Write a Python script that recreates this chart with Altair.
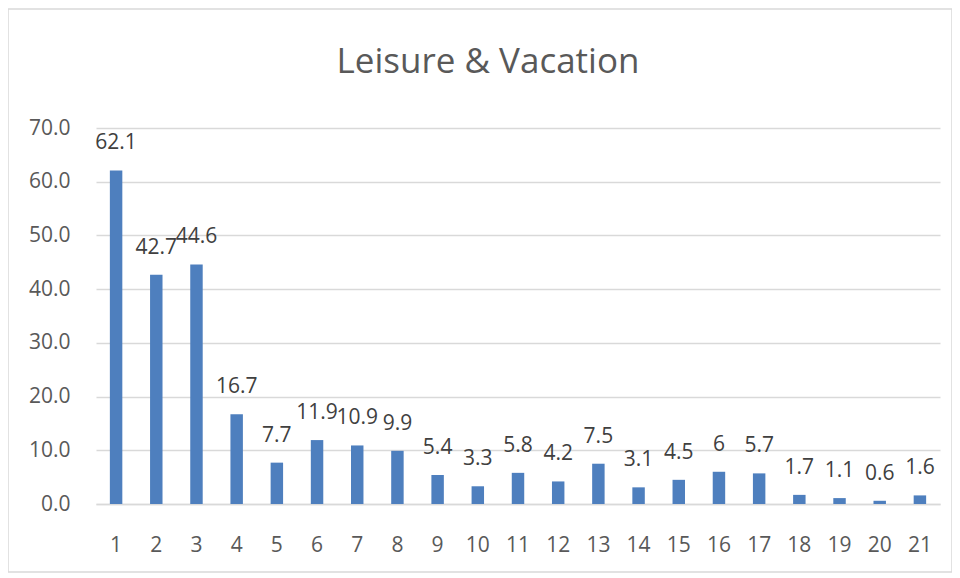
import altair as alt
import pandas as pd

categories = [str(i) for i in range(1, 22)]
values = [62.1, 42.7, 44.6, 16.7, 7.7, 11.9, 10.9, 9.9, 5.4, 3.3, 5.8, 4.2,
          7.5, 3.1, 4.5, 6, 5.7, 1.7, 1.1, 0.6, 1.6]
labels = ["62.1", "42.7", "44.6", "16.7", "7.7", "11.9", "10.9", "9.9", "5.4",
          "3.3", "5.8", "4.2", "7.5", "3.1", "4.5", "6", "5.7", "1.7", "1.1",
          "0.6", "1.6"]
title_text = "Leisure & Vacation"

df = pd.DataFrame({"cat": categories, "val": values, "lab": labels})

FONT = "Open Sans"
W, H = 844, 376

x = alt.X("cat:N", sort=categories, title=None,
          scale=alt.Scale(paddingInner=0.69, paddingOuter=0.345),
          axis=alt.Axis(labelAngle=0, ticks=False, labelPadding=30,
                        labelFontSize=21, labelColor="#595959", labelFont=FONT,
                        domainColor="#D9D9D9", domainWidth=1.5, grid=False))
y = alt.Y("val:Q", title=None,
          scale=alt.Scale(domain=[0, 70], nice=False),
          axis=alt.Axis(values=[0, 10, 20, 30, 40, 50, 60, 70], format=".1f",
                        ticks=False, domain=False, labelPadding=26,
                        labelFontSize=21, labelColor="#595959", labelFont=FONT,
                        gridColor="#D9D9D9", gridWidth=1.5))

bars = alt.Chart(df).mark_bar(color="#4E7FBE").encode(x=x, y=y)
text = alt.Chart(df).mark_text(baseline="alphabetic", dy=-21, fontSize=21,
                               font=FONT, color="#404040").encode(
    x=alt.X("cat:N", sort=categories), y="val:Q", text="lab:N")

border = alt.Chart(alt.Data(values=[{}])).mark_rect(
    fill=None, stroke="#D9D9D9", strokeWidth=1.5).encode(
    x=alt.value(-88), x2=alt.value(W + 12), y=alt.value(-119), y2=alt.value(H + 68))

title = alt.Chart(alt.Data(values=[{"t": title_text}])).mark_text(
    fontSize=35, font=FONT, color="#595959", align="center",
    baseline="alphabetic").encode(
    x=alt.value(W / 2 - 30), y=alt.value(-55), text="t:N")

chart = alt.layer(border, bars, text, title).properties(
    width=W, height=H,
    autosize=alt.AutoSizeParams(type="none"),
    padding={"left": 88, "top": 120, "right": 12, "bottom": 70},
).configure_view(stroke=None)

chart.save("out.html", embed_options={"renderer": "svg", "actions": False})
